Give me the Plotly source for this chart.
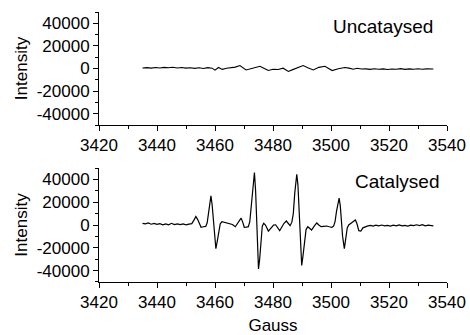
import plotly.graph_objects as go

# Uncatalysed spectrum (Gauss, intensity)
unc_x = [3435, 3436.5, 3438, 3439.5, 3441, 3442.5, 3444, 3445.5, 3447, 3448.5,
         3450, 3451.5, 3453, 3454.5, 3456, 3457.5, 3459, 3460, 3461.2, 3462.5,
         3464, 3465.5, 3467, 3468.6, 3469.7, 3470.7, 3472, 3473.5, 3475.5, 3477,
         3478.4, 3480, 3481.8, 3483.5, 3485.3, 3486.8, 3488.5, 3490.4, 3492.2, 3493.9,
         3495.8, 3497.9, 3499.2, 3500.4, 3502.5, 3504.8, 3506.2, 3507.7, 3509, 3510.5,
         3512, 3513.5, 3515, 3516.5, 3518, 3519.5, 3521, 3522.5, 3524, 3525.5,
         3527, 3528.5, 3530, 3531.5, 3533, 3534.5, 3535.3]
unc_y = [500, 800, 300, 900, 400, 1000, 600, 1100, 500, 900,
         300, 700, 100, 600, 0, 800, 300, -1500, 900, -800,
         200, 800, 1200, 2600, 800, -1300, -500, 800, 2000, 0,
         -1800, -600, -900, 300, -2600, -1000, 1000, 2600, 500, -1300,
         1000, 2000, 0, -1800, -200, 900, 300, -600, 200, -500,
         -300, -800, -200, -700, -300, -900, -400, -600, -100, -800,
         -300, -700, -200, -600, -300, -800, -500]

# Catalysed spectrum (Gauss, intensity)
cat_x = [3435, 3436, 3437, 3438, 3439, 3440, 3441, 3442, 3443, 3444,
         3445, 3446, 3447, 3448, 3449, 3450, 3451, 3452, 3452.8, 3453.4,
         3454.0, 3454.6, 3455.2, 3456.0, 3456.8, 3457.3, 3457.8, 3458.2, 3458.6, 3459.0,
         3459.4, 3459.8, 3460.3, 3460.8, 3461.3, 3461.8, 3462.4, 3463.2, 3464.0, 3465.0,
         3466.0, 3467.0, 3467.8, 3468.5, 3469.0, 3469.5, 3470.1, 3470.8, 3471.5, 3472.0,
         3472.6, 3473.1, 3473.6, 3474.0, 3474.4, 3474.7, 3475.0, 3475.4, 3475.8, 3476.3,
         3476.8, 3477.4, 3478.4, 3479.3, 3480.2, 3480.9, 3481.6, 3482.3, 3483.0, 3483.8,
         3484.6, 3485.3, 3485.9, 3486.5, 3487.0, 3487.5, 3488.2, 3488.6, 3489.0, 3489.4,
         3489.9, 3490.3, 3490.8, 3491.4, 3492.0, 3492.5, 3493.3, 3494.2, 3495.1, 3495.8,
         3496.6, 3497.4, 3498.5, 3499.4, 3500.3, 3500.9, 3501.4, 3501.9, 3502.4, 3502.8,
         3503.2, 3503.6, 3504.0, 3504.6, 3505.1, 3505.6, 3506.1, 3507.1, 3507.7, 3508.4,
         3508.9, 3509.6, 3510.3, 3511.0, 3511.8, 3512.5, 3513.5, 3514.5, 3515.5, 3516.5,
         3517.5, 3518.5, 3519.5, 3520.5, 3521.5, 3522.5, 3523.5, 3524.5, 3525.5, 3526.5,
         3527.5, 3528.5, 3529.5, 3530.5, 3531.5, 3532.5, 3533.5, 3534.5, 3535.3]
cat_y = [1500, 1000, 1800, 700, 1400, 500, 1200, 200, 900, 100,
         1500, 400, 1000, 300, 900, 200, 800, 1200, 4500, 7400,
         5000, 500, -2000, -1500, -1200, 2000, 12000, 21000, 25500, 18000,
         5000, -10000, -20700, -14000, -4000, 1000, 3000, 2500, 1800, 1000,
         500, -1500, 1500, 5000, 6000, 3000, -2000, -1800, -1500, 3000,
         20000, 38000, 46000, 30000, 0, -25000, -38500, -30000, -12000, -1000,
         1500, 0, -5300, -2500, 0, 200, -2500, -5000, -2000, 1500,
         3500, 1000, -600, 2500, 10000, 28000, 44500, 35000, 10000, -18000,
         -35500, -28000, -14000, -4000, -1500, -2500, -4400, -1000, 1800, 0,
         -1500, -1200, -900, -1500, -2000, -1000, 3000, 12000, 20000, 23500,
         17000, 4000, -10000, -20700, -12000, -2500, 0, 1500, 3000, 4400,
         1500, -5000, -5300, -2500, -1500, -1000, -300, -900, -100, -700,
         0, -800, -300, -1000, -200, -700, 100, -800, -300, -900,
         -100, -600, 200, -500, 300, -700, -200, -800, -800]

y_ticks = [40000, 20000, 0, -20000, -40000]
y_labels = ["40000", "20000", "0", "-20000", "-40000"]
x_ticks = [3420, 3440, 3460, 3480, 3500, 3520, 3540]

FONT = "Liberation Sans, Arial, sans-serif"

fig = go.Figure()
fig.add_trace(go.Scatter(x=unc_x, y=unc_y, mode="lines",
                         line=dict(color="black", width=1.1),
                         xaxis="x", yaxis="y", showlegend=False))
fig.add_trace(go.Scatter(x=cat_x, y=cat_y, mode="lines",
                         line=dict(color="black", width=1.2),
                         xaxis="x2", yaxis="y2", showlegend=False))

xcommon = dict(range=[3420, 3540], tickvals=x_ticks, showline=True, linecolor="black",
               linewidth=1, ticks="outside", ticklen=5, tickcolor="black",
               showgrid=False, zeroline=False, automargin=False, ticklabeloverflow="allow",
               minor=dict(dtick=10, tick0=3420, ticks="outside", ticklen=3, tickcolor="black"),
               tickfont=dict(family=FONT, size=17, color="black"))
ycommon = dict(range=[-50000, 50000], tickvals=y_ticks, ticktext=y_labels, showline=True,
               linecolor="black", linewidth=1, ticks="outside", ticklen=5, tickcolor="black",
               showgrid=False, zeroline=False, automargin=False, ticklabeloverflow="allow",
               minor=dict(dtick=10000, tick0=0, ticks="outside", ticklen=3, tickcolor="black"),
               tickfont=dict(family=FONT, size=17, color="black"),
               title=dict(text="Intensity", font=dict(family=FONT, size=17, color="black"), standoff=4))

fig.update_layout(
    width=470, height=335,
    margin=dict(l=99, r=23, t=12, b=53),
    paper_bgcolor="white", plot_bgcolor="white",
    font=dict(family=FONT, color="black"),
    xaxis=dict(anchor="y", **xcommon),
    yaxis=dict(domain=[0.5815, 1.0], anchor="x", **ycommon),
    xaxis2=dict(anchor="y2", title=dict(text="Gauss", font=dict(family=FONT, size=17, color="black"), standoff=12), **xcommon),
    yaxis2=dict(domain=[0.0, 0.4222], anchor="x2", **ycommon),
    annotations=[
        dict(text="Uncataysed", x=3518, y=37000, xref="x", yref="y", showarrow=False,
             font=dict(family=FONT, size=19, color="black")),
        dict(text="Catalysed", x=3523, y=38200, xref="x2", yref="y2", showarrow=False,
             font=dict(family=FONT, size=19, color="black")),
    ],
)

# remove the default page margin so the 470x335 figure fills the window exactly
fig.write_html("out.html",
               config={"displayModeBar": False},
               post_script="document.body.style.margin='0';document.body.style.overflow='hidden';")
